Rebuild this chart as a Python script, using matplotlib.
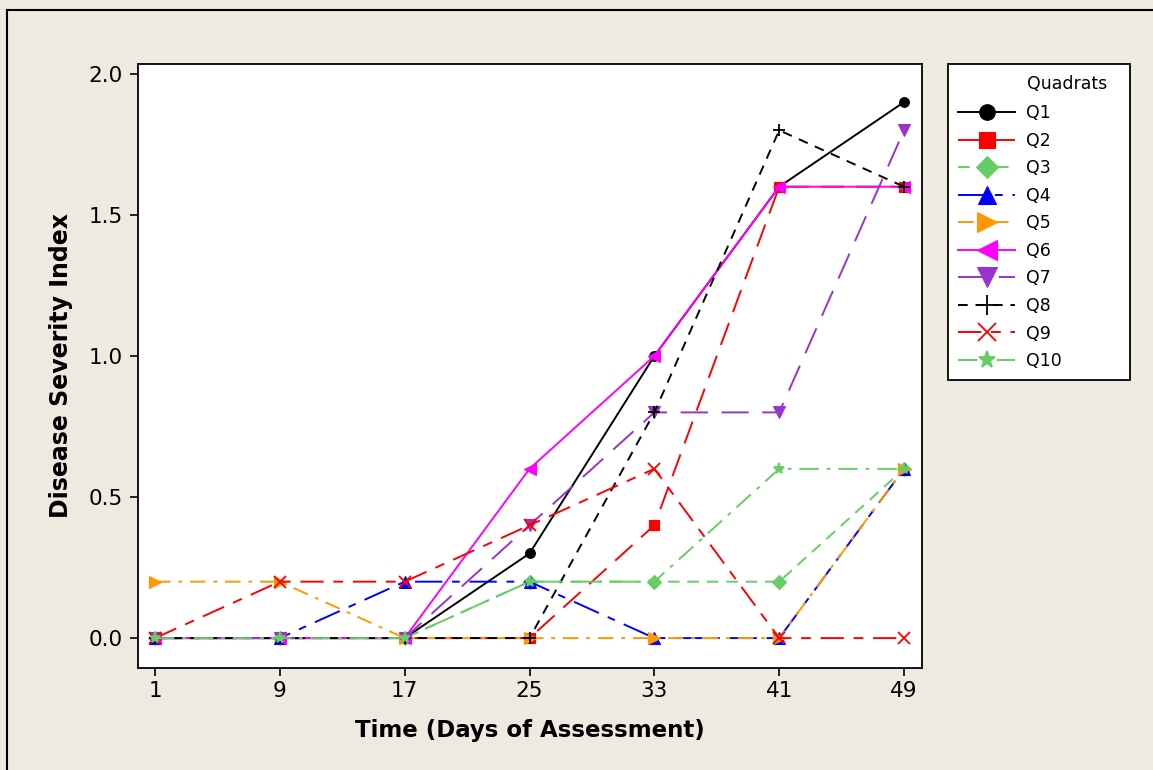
import matplotlib
matplotlib.use("Agg")
import matplotlib.pyplot as plt
from matplotlib.patches import Rectangle

days = [1, 9, 17, 25, 33, 41, 49]
labels = ["Q1", "Q2", "Q3", "Q4", "Q5", "Q6", "Q7", "Q8", "Q9", "Q10"]
q1 = [0, 0, 0, 0.3, 1.0, 1.6, 1.9]
q2 = [0, 0, 0, 0, 0.4, 1.6, 1.6]
q3 = [0, 0, 0, 0.2, 0.2, 0.2, 0.6]
q4 = [0, 0, 0.2, 0.2, 0, 0, 0.6]
q5 = [0.2, 0.2, 0, 0, 0, 0, 0.6]
q6 = [0, 0, 0, 0.6, 1.0, 1.6, 1.6]
q7 = [0, 0, 0, 0.4, 0.8, 0.8, 1.8]
q8 = [0, 0, 0, 0, 0.8, 1.8, 1.6]
q9 = [0, 0.2, 0.2, 0.4, 0.6, 0, 0]
q10 = [0, 0, 0, 0.2, 0.2, 0.6, 0.6]
series = [q1, q2, q3, q4, q5, q6, q7, q8, q9, q10]

colors = ["#000000", "#FF0000", "#66CC66", "#0000FF", "#FF9900",
          "#FF00FF", "#9933CC", "#000000", "#FF0000", "#66CC66"]
markers = ["o", "s", "D", "^", ">", "<", "v", "+", "x", "*"]
msizes = [7, 7, 7, 8, 9, 9, 9, 9, 8, 8]
styles = ["-", (0, (12, 6)), (0, (6, 4)), (0, (14, 5, 4, 5)), (0, (8, 4, 2, 4)),
          "-", (0, (14, 7)), (0, (5, 4)), (0, (12, 5, 5, 5)), (0, (10, 4, 2, 4))]

W, H = 1153, 770
bg = "#EEEAE0"
fig = plt.figure(figsize=(W / 100, H / 100), dpi=100, facecolor=bg)
fig.patches.append(Rectangle((7 / W, -0.05), 1.2, 1 - 10 / H + 0.05,
                             transform=fig.transFigure, fill=False,
                             edgecolor="black", linewidth=1.5))

ax = fig.add_axes([138 / W, 1 - 668 / H, (922 - 138) / W, (668 - 64) / H])
ax.set_facecolor("white")

handles = []
for ys, lab, c, m, ms, ls in zip(series, labels, colors, markers, msizes, styles):
    h, = ax.plot(days, ys, color=c, marker=m, markersize=ms, linestyle=ls,
                 linewidth=1.4, label=lab, markeredgewidth=1.3 if m in "+x*" else 0.8)
    handles.append(h)

ax.set_xlim(-0.09, 50.15)
ax.set_ylim(-0.106, 2.035)
ax.set_xticks(days)
ax.set_yticks([0.0, 0.5, 1.0, 1.5, 2.0])
ax.set_yticklabels(["0.0", "0.5", "1.0", "1.5", "2.0"])
ax.tick_params(axis="both", labelsize=15.5, direction="out", length=6, width=1.2)
ax.tick_params(axis="y", pad=5)
for s in ax.spines.values():
    s.set_linewidth(1.3)

ax.set_xlabel("Time (Days of Assessment)", fontsize=16.5, fontweight="bold", labelpad=13)
ax.set_ylabel("Disease Severity Index", fontsize=17, fontweight="bold", labelpad=11)

# legend panel
fig.patches.append(Rectangle((948 / W, 1 - 380 / H), (1130 - 948) / W, (380 - 64) / H,
                             transform=fig.transFigure, facecolor="white",
                             edgecolor="black", linewidth=1.3, zorder=1))
fig.text(1027 / W, 1 - 84 / H, "Quadrats", fontsize=12.5, va="center", ha="left")
leg = fig.legend(handles=handles, labels=labels,
                 loc="upper left", bbox_to_anchor=(946 / W, 1 - 92 / H),
                 fontsize=12.5, frameon=False, handlelength=3.3, markerscale=1.6,
                 labelspacing=0.55, borderpad=0.2, handletextpad=0.6)

fig.savefig("out.png", dpi=100, facecolor=bg)
